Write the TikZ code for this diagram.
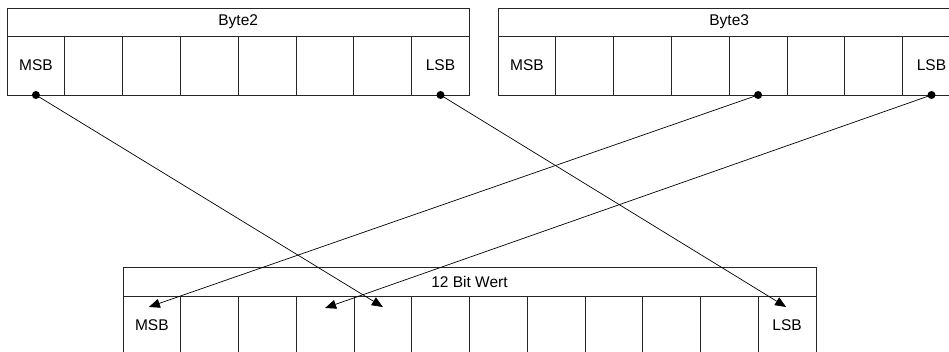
\documentclass[tikz,border=0pt]{standalone}
\usepackage{fontspec}
\setmainfont{Liberation Sans}
\usetikzlibrary{arrows.meta,calc}

\tikzset{
  label font/.style={font=\fontsize{15.5}{17}\selectfont},
  frame/.style={draw=black!85, line width=0.9pt, rectangle, inner sep=0pt, outer sep=0pt, label font},
  bitcell/.style={frame, minimum width=57.8pt, minimum height=59pt, anchor=north west},
  header/.style={frame, minimum height=28pt, anchor=north west},
  link/.style={draw=black, line width=0.7pt, -{Triangle[length=11pt,width=9pt]}},
  dot/.style={circle, fill=black, inner sep=0pt, minimum size=8pt}
}

\begin{document}
\begin{tikzpicture}[x=1pt, y=-1pt]
  \useasboundingbox (0,0) rectangle (949,352);
  \clip (0,0) rectangle (949,352);

  % Byte 2
  \node[header, minimum width=462.4pt] (b2) at (7,8) {Byte2};
  \foreach \i in {0,...,7} {
    \node[bitcell] (b2c\i) at ({7+57.8*\i},36) {};
  }
  \node[label font] (b2msb) at (b2c0) {MSB};
  \node[label font] (b2lsb) at (b2c7) {LSB};

  % Byte 3
  \node[header, minimum width=462.4pt] (b3) at (498,8) {Byte3};
  \foreach \i in {0,...,7} {
    \node[bitcell] (b3c\i) at ({498+57.8*\i},36) {};
  }
  \node[label font] (b3msb) at (b3c0) {MSB};
  \node[label font] (b3lsb) at (b3c7) {LSB};

  % 12 bit value
  \node[header, minimum width=693pt, minimum height=29pt] (w) at (123,267) {12 Bit Wert};
  \foreach \i in {0,...,11} {
    \node[bitcell, minimum width=57.75pt] (wc\i) at ({123+57.75*\i},296) {};
  }
  \node[label font] (wmsb) at (wc0) {MSB};
  \node[label font] (wlsb) at (wc11) {LSB};

  % source dots
  \node[dot] (s1) at (b2c0.south) {};
  \node[dot] (s2) at (b2c7.south) {};
  \node[dot] (s3) at (b3c4.south) {};
  \node[dot] (s4) at (b3c7.south) {};

  % arrow targets inside the value cells
  \coordinate (t0) at ($(wc0.north)+(-3,11)$);
  \coordinate (t3) at ($(wc3.north)+(0,12)$);
  \coordinate (t4) at ($(wc4.north)+(0,11)$);
  \coordinate (t11) at ($(wc11.north)+(-1,11)$);

  \draw[link] (s1.center) -- (t4);
  \draw[link] (s2.center) -- (t11);
  \draw[link] (s3.center) -- (t0);
  \draw[link] (s4.center) -- (t3);
\end{tikzpicture}
\end{document}
